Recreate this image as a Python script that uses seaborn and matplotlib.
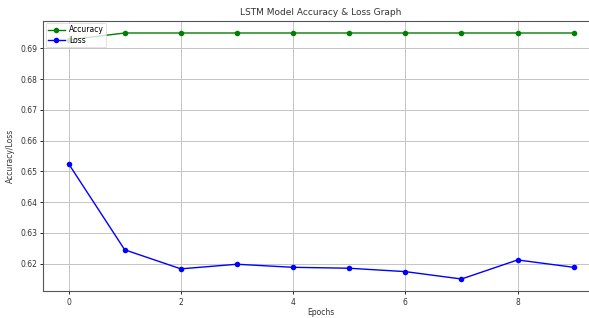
import matplotlib
matplotlib.use("Agg")
import matplotlib.pyplot as plt
import seaborn as sns
import pandas as pd

epochs = [0, 1, 2, 3, 4, 5, 6, 7, 8, 9]
accuracy = [0.6928, 0.6950, 0.6950, 0.6950, 0.6950, 0.6950, 0.6950, 0.6950, 0.6950, 0.6950]
loss = [0.6525, 0.6245, 0.6183, 0.6198, 0.6188, 0.6185, 0.6174, 0.6150, 0.6212, 0.6188]

W, H = 589, 318
fig = plt.figure(figsize=(W / 100, H / 100), dpi=100)
ax = fig.add_axes([43.3 / W, (H - 291.3) / H, (599 - 43.3) / W, (291.3 - 20.7) / H])

df = pd.DataFrame({"Epoch": epochs, "Accuracy": accuracy, "Loss": loss})
sns.lineplot(data=df, x="Epoch", y="Accuracy", color="green", marker="o",
             markersize=4, markeredgewidth=0, linewidth=1, label="Accuracy", ax=ax)
sns.lineplot(data=df, x="Epoch", y="Loss", color="blue", marker="o",
             markersize=4, markeredgewidth=0, linewidth=1, label="Loss", ax=ax)

ax.set_title("LSTM Model Accuracy & Loss Graph", fontsize=6.5, color="#333333", pad=4)
ax.set_xlabel("Epochs", fontsize=5.5, color="#333333", labelpad=1)
ax.set_ylabel("Accuracy/Loss", fontsize=5.5, color="#333333", labelpad=4)
ax.set_xticks([0, 2, 4, 6, 8])
ax.tick_params(labelsize=5.5, labelcolor="#333333", length=2.5, width=0.6, pad=2)
ax.grid(True, color="#c4c4c4", linewidth=0.7)
for s in ax.spines.values():
    s.set_linewidth(0.8)
    s.set_color("#555555")
leg = ax.legend(loc="upper left", fontsize=5.5, borderpad=0.3, labelspacing=0.2,
                handlelength=2.2, handletextpad=0.6, borderaxespad=0.3, framealpha=0.8)
leg.get_frame().set_linewidth(0.5)

fig.savefig("out.png", dpi=100)
